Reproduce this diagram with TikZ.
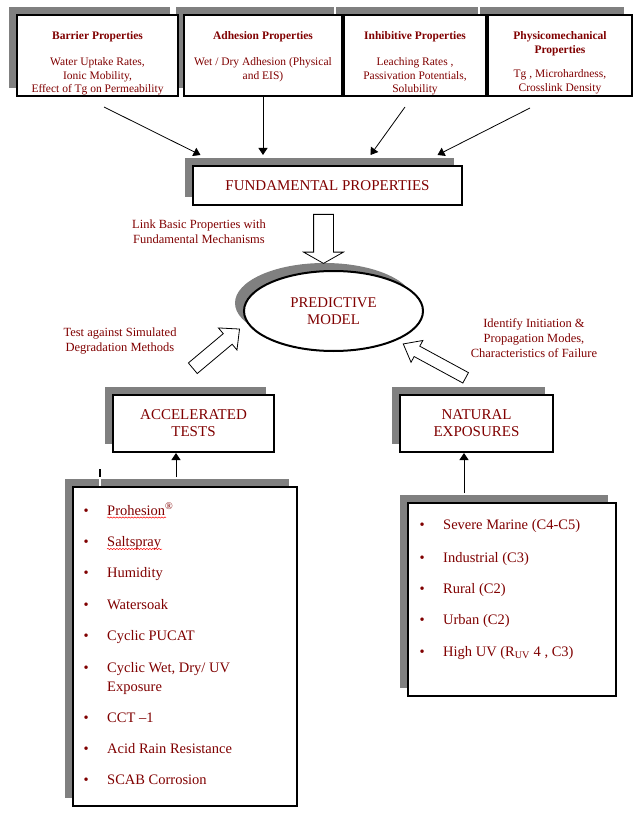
\documentclass[tikz,border=0pt]{standalone}
\usepackage{fontspec}
\setmainfont{Liberation Serif}
\usetikzlibrary{shapes.geometric,shapes.arrows,shadows,arrows.meta,decorations.pathmorphing}

\definecolor{maroon}{RGB}{128,0,0}
\definecolor{shade}{RGB}{128,128,128}
\newcommand\bul{\makebox[23.5pt][l]{\textbullet}}

\begin{document}
\begin{tikzpicture}[
    x=1pt, y=-1pt,
    align=center,
    >={Triangle[length=7pt,width=9pt]},
	box/.style={
	  rectangle,
	  line width=2pt,
	  draw=black,
	  fill=white,
	  inner sep=0pt,
	  drop shadow={shadow xshift=-8pt, shadow yshift=8pt, opacity=1, fill=shade}
	},
	oval/.style={
	  ellipse,
	  line width=2pt,
	  draw=black,
	  fill=white,
	  inner sep=0pt,
	  minimum width=179pt,
	  minimum height=80pt,
	  text=maroon,
	  font=\fontsize{14.8}{17}\selectfont,
	  drop shadow={shadow xshift=-9pt, shadow yshift=8pt, opacity=1, fill=shade}
	},
	hollow/.style={
	  single arrow,
	  draw=black,
	  fill=white,
	  line width=0.8pt,
	  inner xsep=0pt,
	  anchor=tail
	},
	toptext/.style={text=maroon, inner sep=0pt, font=\fontsize{11.5}{13.5}\selectfont},
	caps/.style={text=maroon, font=\fontsize{15}{17}\selectfont},
	note/.style={text=maroon, inner sep=0pt, font=\fontsize{12.5}{15}\selectfont},
	item/.style={text=maroon, inner sep=0pt, anchor=base west, align=left,
	  font=\fontsize{14.5}{19}\selectfont},
	squiggle/.style={draw=red, line width=0.5pt, decorate,
	  decoration={snake, amplitude=0.6pt, segment length=3pt}},
 	line/.style={draw, line width=0.8pt}
	]
	\useasboundingbox (0,0) rectangle (641,818);

	% property boxes along the top
	\node [box, minimum width=144pt, minimum height=81pt] at (560, 55.5) (physico) {};
	\node [box, minimum width=142pt, minimum height=81pt] at (415, 55.5) (inhibitive) {};
	\node [box, minimum width=158pt, minimum height=81pt] at (263, 55.5) (adhesion) {};
	\node [box, minimum width=161pt, minimum height=81pt] at (97.5, 55.5) (barrier) {};
	\node [toptext, anchor=north] at (97.5, 31.5) (barrierText) {\textbf{Barrier Properties}\\[12.5pt]
	  Water Uptake Rates,\\Ionic Mobility,\\Effect of Tg on Permeability};
	\node [toptext, anchor=north] at (263, 31.5) (adhesionText) {\textbf{Adhesion Properties}\\[12.5pt]
	  Wet / Dry Adhesion (Physical\\and EIS)};
	\node [toptext, anchor=north] at (415, 31.5) (inhibitiveText) {\textbf{Inhibitive Properties}\\[12.5pt]
	  Leaching Rates ,\\Passivation Potentials,\\Solubility};
	\node [toptext, anchor=north] at (560, 31.5) (physicoText) {\textbf{Physicomechanical}\\\textbf{Properties}\\[11pt]
	  Tg , Microhardness,\\Crosslink Density};

	\node [box, caps, minimum width=269pt, minimum height=39pt] at (327.5, 185.5) (fundamental) {FUNDAMENTAL PROPERTIES};
	\coordinate (fundTop) at ([yshift=10pt]fundamental.north);
	\coordinate (barrierOut) at (104, 107);
	\coordinate (inhibitiveOut) at (405, 107);
	\coordinate (physicoOut) at (530, 108);
	\draw [line, ->] (barrierOut) -- ([xshift=-127pt]fundTop);
	\draw [line, ->] (adhesion.south) -- (adhesion.south |- fundTop);
	\draw [line, ->] (inhibitiveOut) -- ([xshift=43pt]fundTop);
	\draw [line, ->] (physicoOut) -- ([xshift=110pt]fundTop);

	% model in the middle
	\node [oval] at (333.5, 311) (model) {PREDICTIVE\\MODEL};
	\node [note] at (199, 232) (linkNote) {Link Basic Properties with\\Fundamental Mechanisms};
	\node [note] at (120, 341) (testNote) {Test against Simulated\\Degradation Methods};
	\node [note] at (534, 338) (identifyNote) {Identify Initiation \&\\Propagation Modes,\\Characteristics of Failure};
	\node [hollow, rotate=-90, minimum height=49pt, inner ysep=9.5pt,
	  single arrow head extend=10pt, single arrow tip angle=121] at (323.5, 214) (linkArrow) {};
	\node [hollow, rotate=40, minimum height=61pt, inner ysep=6.5pt,
	  single arrow head extend=7.5pt, single arrow tip angle=86] at (192.5, 368.5) (testArrow) {};
	\node [hollow, rotate=151.5, minimum height=71pt, inner ysep=5.5pt,
	  single arrow head extend=6.5pt, single arrow tip angle=77] at (466, 378) (identifyArrow) {};

	\node [box, caps, minimum width=161pt, minimum height=57pt] at (193.5, 423.5) (accelerated) {ACCELERATED\\TESTS};
	\node [box, caps, minimum width=153pt, minimum height=57pt] at (476.5, 423.5) (natural) {NATURAL\\EXPOSURES};

	% test lists
	\node [box, minimum width=224pt, minimum height=319pt] at (185, 646.5) (accList) {};
	\node [box, minimum width=208pt, minimum height=193pt] at (512, 599.5) (natList) {};
	\draw [line width=1.5pt] (100, 469) -- (100, 477);
	\draw [white, line width=1.5pt] (100, 477) -- (100, 486);
	\coordinate (accIn) at (176, 477);
	\coordinate (natIn) at (464, 493);
	\draw [line, ->] (accIn) -- (accIn |- accelerated.south);
	\draw [line, ->] (natIn) -- (natIn |- natural.south);

	\node [item] at (83.5, 515) (prohesion) {\bul Prohesion\textsuperscript{®}};
	\node [item] at (83.5, 546) (saltspray) {\bul Saltspray};
	\node [item] at (83.5, 577) (humidity) {\bul Humidity};
	\node [item] at (83.5, 609) (watersoak) {\bul Watersoak};
	\node [item] at (83.5, 640) (pucat) {\bul Cyclic PUCAT};
	\node [item] at (83.5, 672) (wetdry) {\bul\parbox[t]{150pt}{Cyclic Wet, Dry/ UV\\Exposure}};
	\node [item] at (83.5, 722) (cct) {\bul CCT \textendash1};
	\node [item] at (83.5, 753) (acidrain) {\bul Acid Rain Resistance};
	\node [item] at (83.5, 784) (scab) {\bul SCAB Corrosion};
	\draw [squiggle] ([xshift=23.5pt, yshift=-2.5pt]prohesion.base west) -- +(59, 0);
	\draw [squiggle] ([xshift=23.5pt, yshift=-3pt]saltspray.base west) -- +(55, 0);

	\node [item] at (419.5, 529) (marine) {\bul Severe Marine (C4-C5)};
	\node [item] at (419.5, 562) (industrial) {\bul Industrial (C3)};
	\node [item] at (419.5, 593) (rural) {\bul Rural (C2)};
	\node [item] at (419.5, 624) (urban) {\bul Urban (C2)};
	\node [item] at (419.5, 656) (highuv) {\bul High UV (R\textsubscript{UV} 4 , C3)};
  \end{tikzpicture}
\end{document}
